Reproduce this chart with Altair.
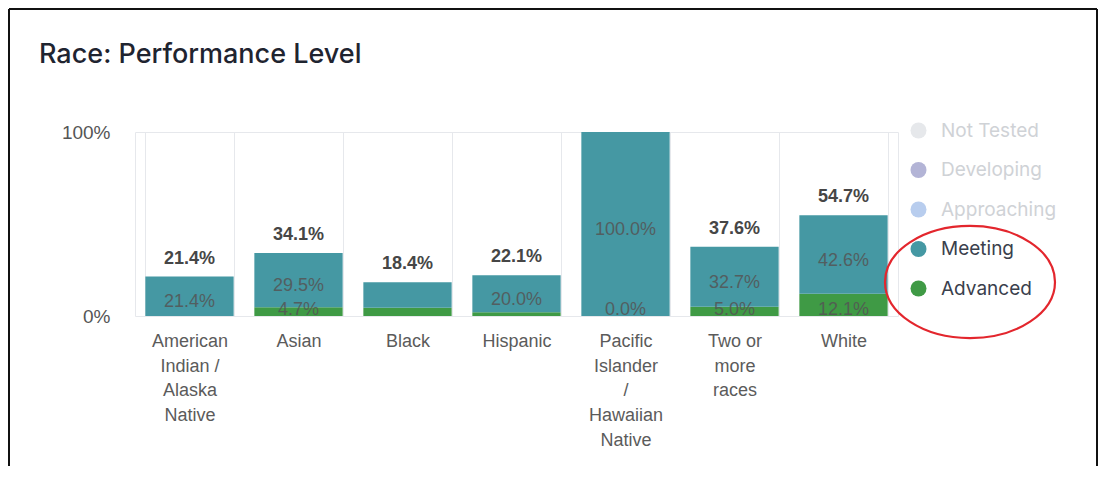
import altair as alt
import pandas as pd

# ---- data ----
categories = ["American Indian / Alaska Native", "Asian", "Black", "Hispanic",
              "Pacific Islander / Hawaiian Native", "Two or more races", "White"]
label_lines = [["American", "Indian /", "Alaska", "Native"], ["Asian"], ["Black"], ["Hispanic"],
               ["Pacific", "Islander", "/", "Hawaiian", "Native"], ["Two or", "more", "races"], ["White"]]
meeting = [21.4, 29.5, 13.9, 20.0, 100.0, 32.7, 42.6]
advanced = [0.0, 4.7, 4.5, 2.1, 0.0, 5.0, 12.1]
totals = [21.4, 34.1, 18.4, 22.1, 100.0, 37.6, 54.7]
show_total = [True, True, True, True, False, True, True]
show_meeting_label = [True, True, False, True, True, True, True]
show_advanced_label = [False, True, False, False, True, True, True]
levels = ["Not Tested", "Developing", "Approaching", "Meeting", "Advanced"]
level_colors = ["#e6e8eb", "#b3b4d6", "#b8cdee", "#4598a3", "#3f9a45"]
active_levels = ["Meeting", "Advanced"]

# ---- tables built from the lists ----
keys = ["|".join(l) for l in label_lines]

bar_rows = []
for k, m, a in zip(keys, meeting, advanced):
    bar_rows.append({"cat": k, "level": "Advanced", "pct": a / 100, "ord": 0})
    bar_rows.append({"cat": k, "level": "Meeting", "pct": m / 100, "ord": 1})
bars_df = pd.DataFrame(bar_rows)

lab_rows = []
for k, m, a, sm, sa in zip(keys, meeting, advanced, show_meeting_label, show_advanced_label):
    if sm:
        lab_rows.append({"cat": k, "y": (a + m / 2) / 100, "txt": f"{m:.1f}%"})
    if sa:
        lab_rows.append({"cat": k, "y": max(a / 2, 6.5) / 100, "txt": f"{a:.1f}%"})
inner_df = pd.DataFrame(lab_rows)

tot_df = pd.DataFrame([{"cat": k, "y": t / 100, "txt": f"{t:.1f}%"}
                       for k, t, s in zip(keys, totals, show_total) if s])

one = pd.DataFrame({"a": [0]})

label_font = "Liberation Sans"

x_enc = alt.X(
    "cat:N", sort=keys, title=None,
    scale=alt.Scale(paddingInner=0.19, paddingOuter=0.095),
    axis=alt.Axis(labelAngle=0, labelExpr="split(datum.label, '|')",
                  labelFont=label_font, labelFontSize=18, labelColor="#5b5b5b",
                  labelLineHeight=24.7, labelBaseline="top", labelPadding=16.5,
                  ticks=False, domain=False, grid=True, gridColor="#e6e8ec",
                  gridWidth=1, tickBand="extent", labelLimit=200),
)
y_scale = alt.Scale(domain=[0, 1])

active_expr = "indexof(" + str(active_levels) + ", datum.label) >= 0 ? '#3a404c' : '#cfd2d6'"

bars = alt.Chart(bars_df).mark_bar().encode(
    x=x_enc,
    y=alt.Y("pct:Q", stack="zero", scale=y_scale, title=None,
            axis=alt.Axis(values=[0, 1], format=".0%", labelFont=label_font,
                          labelFontSize=19, labelColor="#555555", labelPadding=25,
                          ticks=False, domain=False, grid=False)),
    color=alt.Color("level:N", scale=alt.Scale(domain=levels, range=level_colors),
                    legend=alt.Legend(
                        title=None, orient="none", legendX=774, legendY=-11,
                        symbolType="circle", symbolSize=256, symbolStrokeWidth=0,
                        labelFont="Inter", labelFontSize=19, labelOffset=13,
                        rowPadding=19.5, padding=0,
                        labelColor={"expr": active_expr})),
    order=alt.Order("ord:Q"),
)

inner = alt.Chart(inner_df).mark_text(
    font=label_font, fontSize=18, color="#555555", opacity=0.85,
    baseline="middle", dy=6,
).encode(x=x_enc, y=alt.Y("y:Q", scale=y_scale), text="txt:N")

tot = alt.Chart(tot_df).mark_text(
    font=label_font, fontSize=18, fontWeight="bold", color="#464646",
    baseline="middle", dy=-18,
).encode(x=x_enc, y=alt.Y("y:Q", scale=y_scale), text="txt:N")

# decorative frame and red annotation ring around the highlighted legend entries
frame_col = "#111111"
frame_top = alt.Chart(one).mark_rule(color=frame_col, strokeWidth=2).encode(
    x=alt.value(-126), x2=alt.value(962), y=alt.value(-123))
frame_left = alt.Chart(one).mark_rule(color=frame_col, strokeWidth=2).encode(
    x=alt.value(-126), y=alt.value(-123), y2=alt.value(334))
frame_right = alt.Chart(one).mark_rule(color=frame_col, strokeWidth=2).encode(
    x=alt.value(962), y=alt.value(-123), y2=alt.value(334))
ellipse_path = ("M-1,0C-1,-0.3645,-0.5523,-0.66,0,-0.66C0.5523,-0.66,1,-0.3645,1,0"
                "C1,0.3645,0.5523,0.66,0,0.66C-0.5523,0.66,-1,0.3645,-1,0Z")
ring = alt.Chart(one).mark_point(
    shape=ellipse_path, size=170 * 170, filled=False, color="#e3262d",
    strokeWidth=2.2, opacity=1,
).encode(x=alt.value(835), y=alt.value(150))

chart = alt.layer(bars, inner, tot, frame_top, frame_left, frame_right, ring).properties(
    width=763, height=184,
    title=alt.TitleParams("Race: Performance Level", anchor="start", frame="group",
                          dx=-96, offset=-61, font="Inter", fontSize=27,
                          fontWeight=500, color="#1f2430"),
    padding=0,
).configure_view(stroke="#e6e8ec", strokeWidth=1)

chart.save("out.html", embed_options={"renderer": "svg", "actions": False})
